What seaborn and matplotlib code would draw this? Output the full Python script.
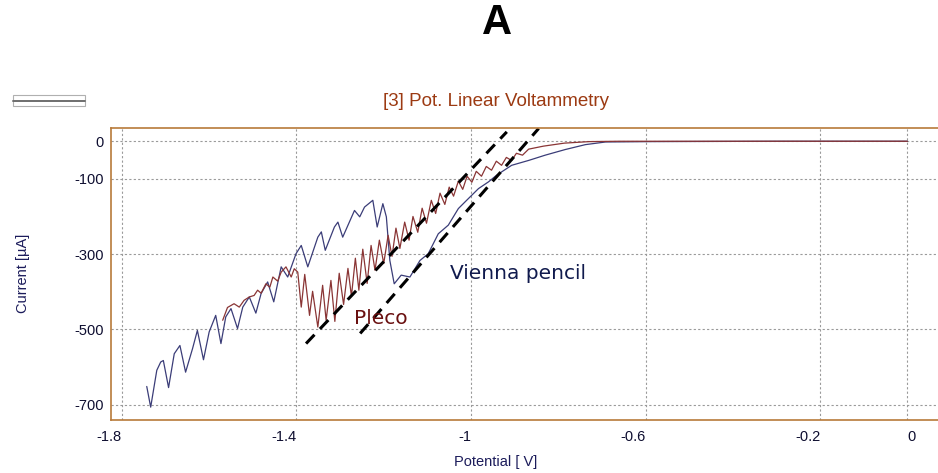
import matplotlib.pyplot as plt
import seaborn as sns
from matplotlib.patches import Rectangle
from matplotlib.lines import Line2D

# Vienna pencil scan (potential in V, current in uA)
vienna_x = [-1.743, -1.734, -1.720, -1.711, -1.705, -1.693, -1.680, -1.667, -1.654, -1.638,
            -1.627, -1.613, -1.600, -1.585, -1.573, -1.562, -1.550, -1.535, -1.523, -1.508,
            -1.493, -1.481, -1.466, -1.452, -1.435, -1.420, -1.401, -1.389, -1.374, -1.351,
            -1.343, -1.334, -1.313, -1.305, -1.294, -1.267, -1.255, -1.244, -1.225, -1.215,
            -1.202, -1.194, -1.186, -1.176, -1.160, -1.140, -1.117, -1.098, -1.075, -1.052,
            -1.029, -1.010, -0.983, -0.960, -0.941, -0.907, -0.868, -0.830, -0.784, -0.738,
            -0.692, -0.592, -0.3, 0.0]
vienna_y = [-652, -707, -609, -587, -583, -655, -565, -543, -614, -551,
            -503, -581, -507, -463, -538, -467, -445, -498, -441, -414,
            -457, -405, -374, -427, -334, -361, -299, -277, -334, -255,
            -241, -290, -228, -215, -255, -184, -201, -175, -157, -228,
            -166, -201, -317, -379, -356, -361, -317, -299, -246, -223,
            -179, -157, -126, -108, -90, -64, -51, -37, -22, -9,
            -2, -1, 0, 0]

# Pleco scan
pleco_x = [-1.569, -1.558, -1.543, -1.531, -1.520, -1.508, -1.497, -1.489, -1.481, -1.470,
           -1.461, -1.454, -1.443, -1.435, -1.424, -1.412, -1.405, -1.397, -1.389, -1.381,
           -1.370, -1.363, -1.351, -1.340, -1.332, -1.321, -1.312, -1.302, -1.292, -1.282,
           -1.274, -1.265, -1.257, -1.248, -1.238, -1.229, -1.220, -1.210, -1.200, -1.190,
           -1.181, -1.172, -1.163, -1.152, -1.142, -1.133, -1.122, -1.112, -1.102, -1.091,
           -1.081, -1.071, -1.060, -1.050, -1.040, -1.029, -1.019, -1.009, -0.998, -0.988,
           -0.976, -0.965, -0.953, -0.942, -0.930, -0.919, -0.907, -0.896, -0.882, -0.868,
           -0.834, -0.786, -0.730, -0.661, -0.3, 0.0]
pleco_y = [-476, -442, -432, -441, -423, -414, -410, -396, -404, -379,
           -388, -361, -372, -348, -334, -361, -339, -348, -441, -354,
           -463, -399, -494, -383, -476, -370, -479, -351, -434, -338,
           -412, -311, -396, -287, -378, -277, -343, -263, -325, -250,
           -306, -231, -285, -215, -263, -200, -242, -178, -218, -157,
           -192, -138, -168, -122, -146, -106, -128, -93, -109, -80,
           -93, -67, -77, -53, -64, -43, -51, -32, -37, -21,
           -13, -5, -1, 0, 0, 0]

# dashed tangent lines
fit1_x = [-1.378, -0.918]
fit1_y = [-538, 25]
fit2_x = [-1.254, -0.845]
fit2_y = [-511, 34]

xticks = [-1.8, -1.4, -1.0, -0.6, -0.2, 0.0]
xtick_labels = ['-1.8', '-1.4', '-1', '-0.6', '-0.2', '0']
yticks = [0, -100, -300, -500, -700]
ytick_labels = ['0', '-100', '-300', '-500', '-700']

sns.set_style('white')
plt.rcParams['font.family'] = ['Liberation Sans', 'DejaVu Sans']

fig = plt.figure(figsize=(9.38, 4.73), dpi=100)
ax = fig.add_axes([0.1183, 0.1114, 0.8817, 0.6186])

sns.lineplot(x=vienna_x, y=vienna_y, sort=False, estimator=None,
             color='#3b3d78', lw=0.9, ax=ax)
sns.lineplot(x=pleco_x, y=pleco_y, sort=False, estimator=None,
             color='#8a3535', lw=0.9, ax=ax)
for fx, fy in [(fit1_x, fit1_y), (fit2_x, fit2_y)]:
    sns.lineplot(x=fx, y=fy, sort=False, estimator=None, color='black',
                 lw=2.2, linestyle=(0, (4, 2.6)), ax=ax)

ax.set_xlim(-1.825, 0.07)
ax.set_ylim(-742, 36)
ax.set_xticks(xticks)
ax.set_xticklabels(xtick_labels, ha='right')
ax.get_xticklabels()[-1].set_horizontalalignment('left')
ax.set_yticks(yticks)
ax.set_yticklabels(ytick_labels)
ax.tick_params(axis='both', length=0, labelsize=10.5, labelcolor='#0e0e30')
ax.tick_params(axis='x', pad=7)
ax.tick_params(axis='y', pad=5)
ax.grid(True, color='#9a9a9a', linestyle=(0, (2, 2)), lw=0.8)

for side in ['left', 'top', 'bottom']:
    ax.spines[side].set_color('#b87a3a')
    ax.spines[side].set_linewidth(1.2)
ax.spines['right'].set_visible(False)

ax.text(-1.268, -471, 'Pleco', color='#6a1010', fontsize=14.5,
        family='DejaVu Sans', ha='left', va='center')
ax.text(-1.048, -351, 'Vienna pencil', color='#101a4d', fontsize=14.5,
        family='DejaVu Sans', ha='left', va='center')

fig.text(0.530, 0.951, 'A', fontsize=30, fontweight='bold', color='black',
         ha='center', va='center')
fig.text(0.529, 0.786, '[3] Pot. Linear Voltammetry', fontsize=13.5,
         color='#9c3a12', ha='center', va='center')
fig.text(0.025, 0.423, 'Current [µA]', fontsize=10.5, color='#1b1b5a',
         rotation=90, ha='center', va='center')
fig.text(0.528, 0.023, 'Potential [ V]', fontsize=10.5, color='#1b1b5a',
         ha='center', va='center')

# small legend-style box in the top left corner
fig.add_artist(Rectangle((0.0139, 0.7759), 0.0768, 0.0233, transform=fig.transFigure,
                         facecolor='white', edgecolor='#b0b0b0', lw=0.8))
fig.add_artist(Line2D([0.0139, 0.0907], [0.786, 0.786], transform=fig.transFigure,
                      color='#6e6e6e', lw=1.4))

fig.savefig('out.png', dpi=100)
